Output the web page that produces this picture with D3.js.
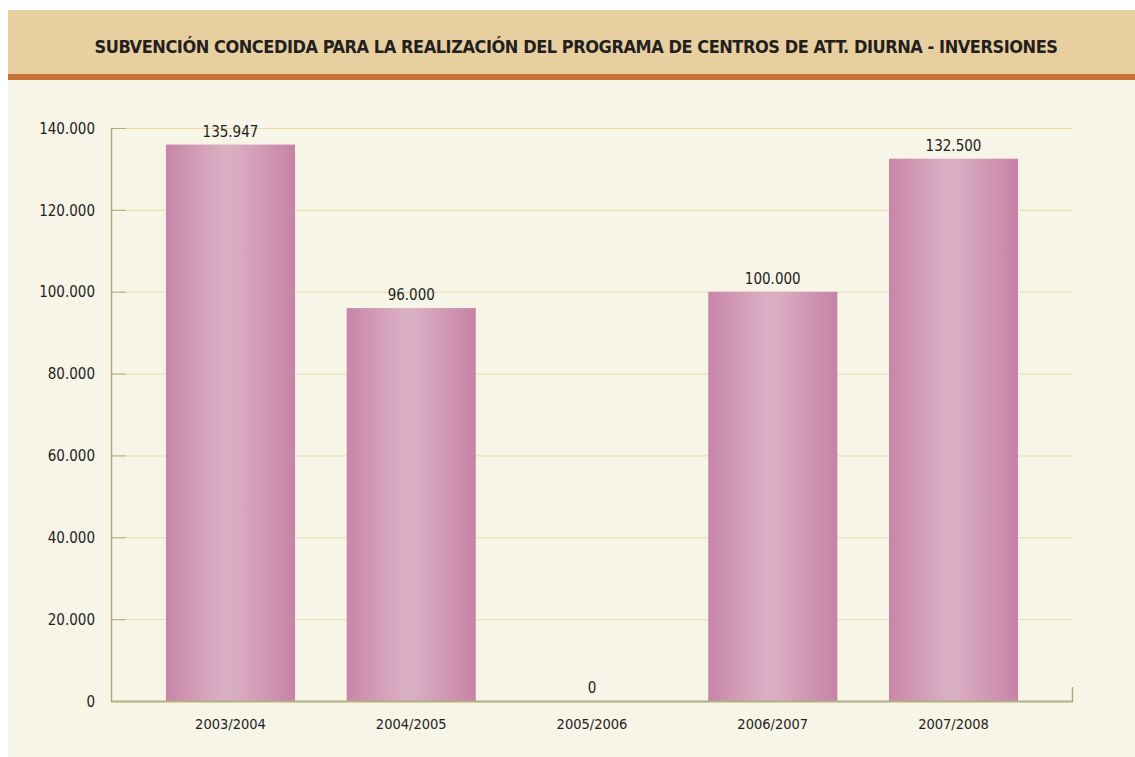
<!DOCTYPE html>
<html>
<head>
<meta charset="utf-8">
<script src="https://cdn.jsdelivr.net/npm/d3@7"></script>
<style>
  body { margin: 0; background: #ffffff; }
  svg text { font-family: "DejaVu Sans Condensed", "Liberation Sans Narrow", "Roboto", sans-serif; font-stretch: condensed; fill: #231f20; }
</style>
</head>
<body>
<script>
// chart data
var title = "SUBVENCIÓN CONCEDIDA PARA LA REALIZACIÓN DEL PROGRAMA DE CENTROS DE ATT. DIURNA - INVERSIONES";
var years = ["2003/2004", "2004/2005", "2005/2006", "2006/2007", "2007/2008"];
var amounts = [135947, 96000, 0, 100000, 132500];
var yTicks = [0, 20000, 40000, 60000, 80000, 100000, 120000, 140000];

var totalWidth = 1135, totalHeight = 757;

var headerColor = "#e8cf9f";
var stripeColor = "#c87137";
var panelColor = "#f7f4e8";
var gridColor = "#edd9a3";
var axisColor = "#b2ae7e";

// spanish number format: 135.947
var fmt = d3.formatLocale({decimal: ",", thousands: ".", grouping: [3], currency: ["", "€"]}).format(",d");

var svg = d3.select("body").append("svg")
    .attr("width", totalWidth)
    .attr("height", totalHeight);

// bar gradient (darker edges, light middle)
var grad = svg.append("defs").append("linearGradient")
    .attr("id", "barGrad")
    .attr("x1", "0%").attr("x2", "100%").attr("y1", "0%").attr("y2", "0%");
grad.append("stop").attr("offset", "0%").attr("stop-color", "#c985a8");
grad.append("stop").attr("offset", "45%").attr("stop-color", "#dab0c4");
grad.append("stop").attr("offset", "55%").attr("stop-color", "#d8acc1");
grad.append("stop").attr("offset", "100%").attr("stop-color", "#c782a6");

//panel + header
svg.append("rect").attr("x", 8).attr("y", 10).attr("width", totalWidth - 8).attr("height", totalHeight - 10).attr("fill", panelColor);
svg.append("rect").attr("x", 8).attr("y", 10).attr("width", totalWidth - 8).attr("height", 64).attr("fill", headerColor);
svg.append("rect").attr("x", 8).attr("y", 74).attr("width", totalWidth - 8).attr("height", 6).attr("fill", stripeColor);

svg.append("text")
    .attr("x", 576)
    .attr("y", 53)
    .attr("text-anchor", "middle")
    .attr("font-size", 18)
    .attr("font-weight", "bold")
    .attr("letter-spacing", -0.45)
    .text(title);

//scales
var plotLeft = 111, plotRight = 1072, plotTop = 128, plotBottom = 701;

var xScale = d3.scaleBand()
    .domain(years)
    .range([140.1, 1043.9])
    .paddingInner(0.286)
    .paddingOuter(0.143);

var yScale = d3.scaleLinear()
    .domain([0, 140000])
    .range([plotBottom, plotTop]);

//grid lines
svg.append("g")
    .selectAll("line")
    .data(yTicks.filter(d => d > 0))
    .enter()
    .append("line")
    .attr("x1", plotLeft)
    .attr("x2", plotRight)
    .attr("y1", d => yScale(d) + 0.5)
    .attr("y2", d => yScale(d) + 0.5)
    .attr("stroke", gridColor)
    .attr("stroke-width", 1);

//y axis
var yAxis = svg.append("g")
    .attr("transform", "translate(" + plotLeft + ",0)")
    .call(d3.axisLeft(yScale).tickValues(yTicks).tickFormat(fmt).tickSize(0).tickPadding(16));
yAxis.select(".domain").remove();
yAxis.selectAll("text")
    .attr("font-size", 15)
    .attr("fill", "#231f20")
    .attr("dy", "0.35em");

// short ticks going into the plot
svg.append("g")
    .selectAll("line")
    .data(yTicks.filter(d => d > 0))
    .enter()
    .append("line")
    .attr("x1", plotLeft)
    .attr("x2", plotLeft + 15)
    .attr("y1", d => yScale(d) + 0.5)
    .attr("y2", d => yScale(d) + 0.5)
    .attr("stroke", axisColor)
    .attr("stroke-width", 1);

svg.append("line")
    .attr("x1", plotLeft + 0.5).attr("x2", plotLeft + 0.5)
    .attr("y1", plotTop).attr("y2", plotBottom + 1)
    .attr("stroke", axisColor).attr("stroke-width", 1.5);

//bars
svg.append("g")
    .selectAll("rect")
    .data(years)
    .enter()
    .append("rect")
    .attr("x", d => xScale(d))
    .attr("y", (d, i) => yScale(amounts[i]))
    .attr("width", xScale.bandwidth())
    .attr("height", (d, i) => plotBottom - yScale(amounts[i]))
    .attr("fill", "url(#barGrad)");

//baseline
svg.append("line")
    .attr("x1", plotLeft).attr("x2", plotRight + 1)
    .attr("y1", plotBottom + 0.5).attr("y2", plotBottom + 0.5)
    .attr("stroke", axisColor).attr("stroke-width", 2);
svg.append("line")
    .attr("x1", plotRight + 0.5).attr("x2", plotRight + 0.5)
    .attr("y1", plotBottom - 14).attr("y2", plotBottom + 1)
    .attr("stroke", axisColor).attr("stroke-width", 1.5);

//value labels
svg.append("g")
    .selectAll("text")
    .data(years)
    .enter()
    .append("text")
    .attr("x", d => xScale(d) + xScale.bandwidth() / 2)
    .attr("y", (d, i) => yScale(amounts[i]) - 8)
    .attr("text-anchor", "middle")
    .attr("font-size", 15)
    .text((d, i) => fmt(amounts[i]));

//x axis
var xAxis = svg.append("g")
    .attr("transform", "translate(0," + plotBottom + ")")
    .call(d3.axisBottom(xScale).tickSize(0).tickPadding(18));
xAxis.select(".domain").remove();
xAxis.selectAll("text")
    .attr("font-size", 14.5)
    .attr("fill", "#231f20");
</script>
</body>
</html>
